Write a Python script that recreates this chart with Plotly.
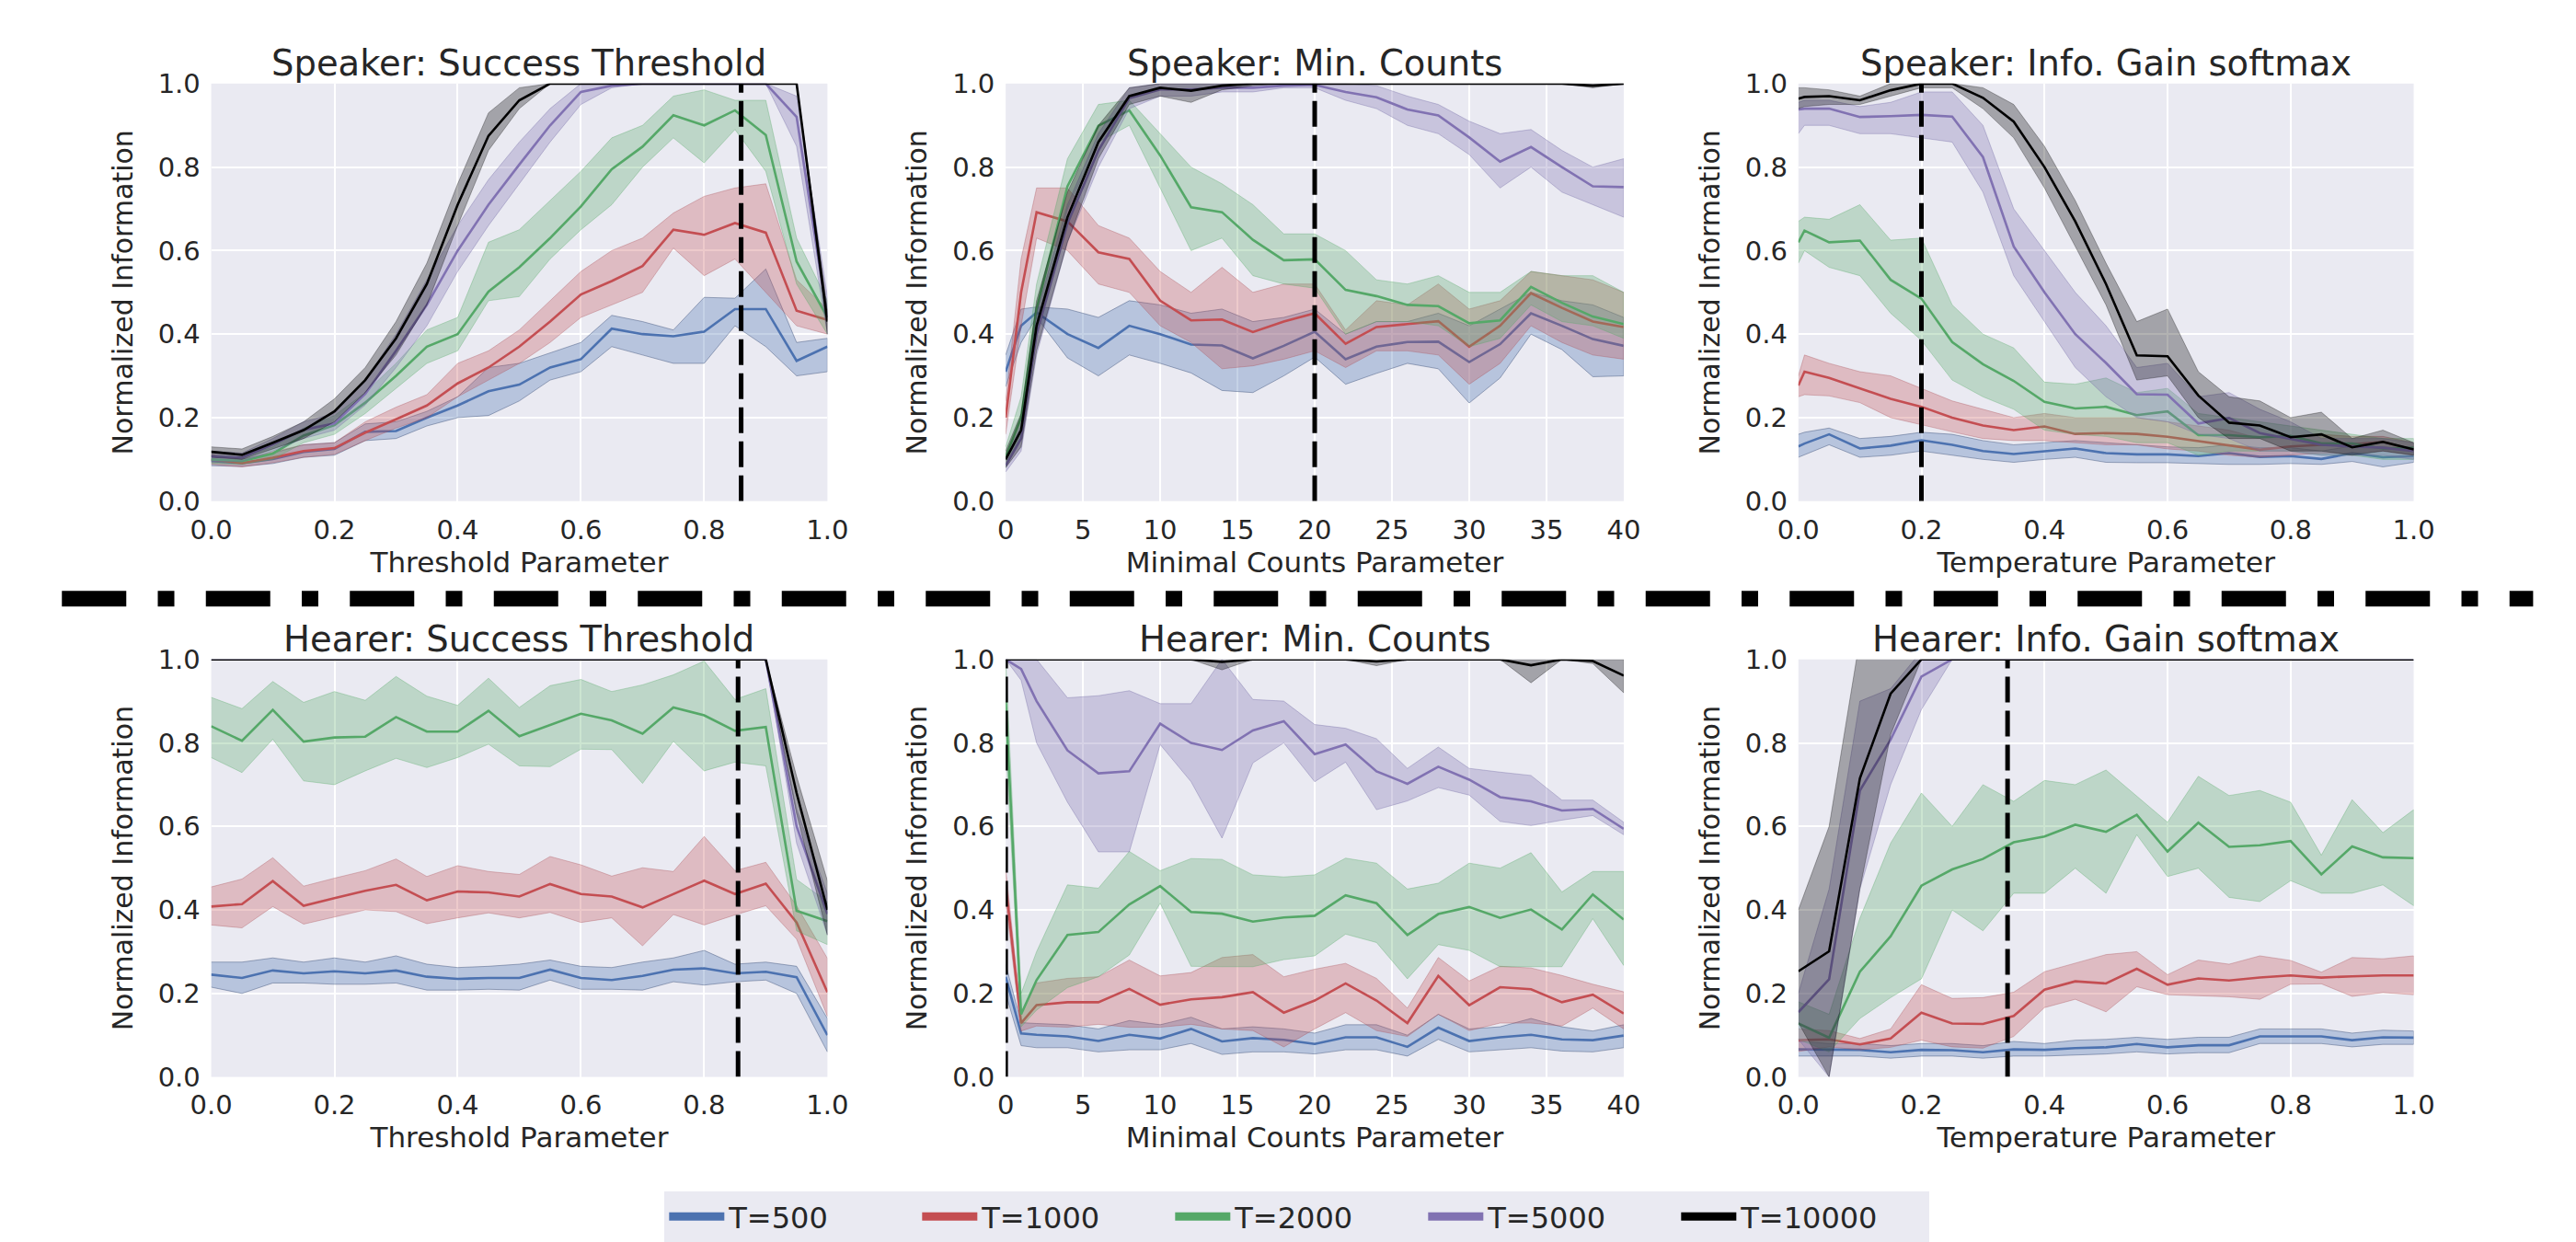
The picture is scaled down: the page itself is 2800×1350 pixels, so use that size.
import plotly.graph_objects as go

# ---------------- data ----------------
T_LABELS = ["T=500", "T=1000", "T=2000", "T=5000", "T=10000"]
COLORS = ["#4C72B0", "#C44E52", "#55A868", "#8172B2", "#000000"]
FILLS = ["rgba(76,114,176,0.32)", "rgba(196,78,82,0.30)", "rgba(85,168,104,0.30)",
         "rgba(129,114,178,0.32)", "rgba(0,0,0,0.30)"]
EDGES = ["rgba(60,80,120,0.45)", "rgba(170,80,90,0.35)", "rgba(85,168,104,0.35)",
         "rgba(110,100,160,0.35)", "rgba(0,0,0,0.30)"]

X_THR = [0.0, 0.05, 0.1, 0.15, 0.2, 0.25, 0.3, 0.35, 0.4, 0.45, 0.5,
         0.55, 0.6, 0.65, 0.7, 0.75, 0.8, 0.85, 0.9, 0.95, 1.0]
X_MC = [0, 1, 2, 4, 6, 8, 10, 12, 14, 16, 18, 20, 22, 24, 26, 28, 30, 32, 34, 36, 38, 40]
X_IG_SP = [0.0, 0.01, 0.05, 0.1, 0.15, 0.2, 0.25, 0.3, 0.35, 0.4, 0.45, 0.5,
           0.55, 0.6, 0.65, 0.7, 0.75, 0.8, 0.85, 0.9, 0.95, 1.0]
X_IG_HE = X_THR

# Speaker: Success Threshold
SP_THR_MEAN = [
    [0.096, 0.091, 0.101, 0.118, 0.125, 0.166, 0.168, 0.200, 0.229, 0.263, 0.279, 0.320, 0.340, 0.413, 0.400, 0.395, 0.406, 0.460, 0.460, 0.336, 0.370],
    [0.100, 0.091, 0.104, 0.120, 0.127, 0.164, 0.196, 0.229, 0.282, 0.320, 0.370, 0.430, 0.495, 0.527, 0.563, 0.650, 0.638, 0.666, 0.643, 0.456, 0.434],
    [0.100, 0.096, 0.114, 0.157, 0.182, 0.236, 0.300, 0.370, 0.400, 0.502, 0.560, 0.630, 0.706, 0.795, 0.849, 0.924, 0.900, 0.936, 0.877, 0.574, 0.440],
    [0.107, 0.104, 0.136, 0.171, 0.186, 0.257, 0.360, 0.470, 0.600, 0.710, 0.806, 0.900, 0.980, 0.995, 1.0, 1.0, 1.0, 1.0, 1.0, 0.920, 0.440],
    [0.118, 0.111, 0.140, 0.170, 0.215, 0.290, 0.390, 0.520, 0.710, 0.875, 0.960, 1.0, 1.0, 1.0, 1.0, 1.0, 1.0, 1.0, 1.0, 1.0, 0.430],
]
SP_THR_LO = [
    [0.085, 0.083, 0.090, 0.105, 0.110, 0.145, 0.150, 0.180, 0.200, 0.205, 0.240, 0.290, 0.310, 0.370, 0.350, 0.330, 0.330, 0.420, 0.370, 0.300, 0.310],
    [0.088, 0.082, 0.092, 0.105, 0.112, 0.145, 0.175, 0.200, 0.250, 0.290, 0.330, 0.380, 0.440, 0.470, 0.500, 0.606, 0.540, 0.580, 0.500, 0.420, 0.400],
    [0.090, 0.088, 0.100, 0.140, 0.160, 0.210, 0.270, 0.330, 0.360, 0.480, 0.490, 0.580, 0.650, 0.710, 0.800, 0.870, 0.810, 0.890, 0.790, 0.520, 0.400],
    [0.095, 0.095, 0.120, 0.150, 0.170, 0.230, 0.320, 0.420, 0.550, 0.660, 0.760, 0.860, 0.950, 0.990, 1.0, 1.0, 1.0, 1.0, 1.0, 0.850, 0.400],
    [0.105, 0.100, 0.125, 0.150, 0.190, 0.260, 0.350, 0.470, 0.660, 0.840, 0.940, 1.0, 1.0, 1.0, 1.0, 1.0, 1.0, 1.0, 1.0, 1.0, 0.400],
]
SP_THR_HI = [
    [0.110, 0.100, 0.115, 0.135, 0.140, 0.185, 0.190, 0.215, 0.250, 0.320, 0.330, 0.355, 0.380, 0.445, 0.430, 0.410, 0.488, 0.486, 0.556, 0.380, 0.390],
    [0.112, 0.100, 0.118, 0.135, 0.140, 0.190, 0.225, 0.255, 0.330, 0.360, 0.410, 0.480, 0.550, 0.600, 0.630, 0.690, 0.730, 0.750, 0.760, 0.530, 0.460],
    [0.110, 0.105, 0.130, 0.175, 0.205, 0.260, 0.330, 0.410, 0.440, 0.620, 0.650, 0.720, 0.790, 0.870, 0.900, 0.970, 0.985, 0.960, 0.960, 0.630, 0.480],
    [0.120, 0.115, 0.150, 0.190, 0.210, 0.290, 0.400, 0.530, 0.660, 0.770, 0.860, 0.940, 1.0, 1.0, 1.0, 1.0, 1.0, 1.0, 1.0, 0.970, 0.490],
    [0.130, 0.125, 0.155, 0.190, 0.245, 0.320, 0.430, 0.570, 0.760, 0.930, 0.990, 1.0, 1.0, 1.0, 1.0, 1.0, 1.0, 1.0, 1.0, 1.0, 0.460],
]

# Speaker: Min. Counts
SP_MC_MEAN = [
    [0.310, 0.420, 0.452, 0.400, 0.367, 0.420, 0.400, 0.375, 0.373, 0.342, 0.372, 0.406, 0.340, 0.370, 0.381, 0.382, 0.333, 0.376, 0.450, 0.420, 0.388, 0.372],
    [0.200, 0.500, 0.692, 0.670, 0.596, 0.580, 0.480, 0.433, 0.435, 0.405, 0.430, 0.450, 0.377, 0.417, 0.424, 0.431, 0.370, 0.420, 0.498, 0.463, 0.430, 0.417],
    [0.106, 0.200, 0.460, 0.754, 0.899, 0.936, 0.828, 0.704, 0.692, 0.626, 0.577, 0.579, 0.506, 0.491, 0.470, 0.467, 0.426, 0.433, 0.513, 0.475, 0.442, 0.424],
    [0.085, 0.150, 0.400, 0.665, 0.840, 0.965, 0.986, 0.986, 0.990, 0.990, 0.995, 0.997, 0.980, 0.967, 0.938, 0.924, 0.871, 0.813, 0.848, 0.800, 0.754, 0.752],
    [0.100, 0.170, 0.420, 0.680, 0.860, 0.970, 0.990, 0.983, 0.995, 1.0, 1.0, 1.0, 1.0, 1.0, 1.0, 1.0, 1.0, 1.0, 1.0, 1.0, 0.995, 1.0],
]
SP_MC_LO = [
    [0.274, 0.380, 0.440, 0.343, 0.300, 0.350, 0.330, 0.307, 0.265, 0.260, 0.300, 0.345, 0.280, 0.306, 0.330, 0.317, 0.235, 0.295, 0.400, 0.363, 0.298, 0.300],
    [0.160, 0.420, 0.630, 0.600, 0.520, 0.500, 0.420, 0.380, 0.317, 0.324, 0.340, 0.360, 0.320, 0.360, 0.360, 0.350, 0.280, 0.330, 0.420, 0.380, 0.350, 0.340],
    [0.080, 0.160, 0.400, 0.700, 0.860, 0.900, 0.750, 0.600, 0.630, 0.540, 0.520, 0.510, 0.400, 0.430, 0.430, 0.420, 0.370, 0.390, 0.470, 0.430, 0.420, 0.390],
    [0.070, 0.120, 0.350, 0.620, 0.800, 0.940, 0.970, 0.970, 0.980, 0.980, 0.990, 0.990, 0.960, 0.940, 0.900, 0.880, 0.830, 0.750, 0.800, 0.740, 0.710, 0.680],
    [0.080, 0.130, 0.360, 0.620, 0.820, 0.950, 0.970, 0.955, 0.985, 0.995, 1.0, 1.0, 1.0, 1.0, 1.0, 1.0, 1.0, 1.0, 1.0, 1.0, 0.990, 1.0],
]
SP_MC_HI = [
    [0.350, 0.460, 0.465, 0.460, 0.440, 0.480, 0.470, 0.450, 0.460, 0.430, 0.440, 0.460, 0.400, 0.430, 0.430, 0.450, 0.420, 0.460, 0.500, 0.480, 0.470, 0.440],
    [0.240, 0.580, 0.750, 0.750, 0.660, 0.630, 0.550, 0.500, 0.560, 0.500, 0.520, 0.520, 0.410, 0.480, 0.470, 0.520, 0.460, 0.480, 0.550, 0.540, 0.530, 0.500],
    [0.130, 0.250, 0.520, 0.820, 0.950, 0.960, 0.880, 0.800, 0.760, 0.710, 0.640, 0.640, 0.600, 0.530, 0.520, 0.540, 0.500, 0.500, 0.550, 0.540, 0.540, 0.500],
    [0.100, 0.180, 0.450, 0.710, 0.880, 0.990, 1.0, 1.0, 1.0, 1.0, 1.0, 1.0, 1.0, 0.995, 0.970, 0.950, 0.910, 0.880, 0.890, 0.840, 0.800, 0.820],
    [0.120, 0.210, 0.480, 0.740, 0.900, 0.990, 1.0, 1.0, 1.0, 1.0, 1.0, 1.0, 1.0, 1.0, 1.0, 1.0, 1.0, 1.0, 1.0, 1.0, 1.0, 1.0],
]

# Speaker: Info. Gain softmax
SP_IG_MEAN = [
    [0.131, 0.138, 0.160, 0.126, 0.133, 0.146, 0.135, 0.120, 0.113, 0.120, 0.126, 0.115, 0.112, 0.112, 0.108, 0.115, 0.106, 0.108, 0.101, 0.115, 0.105, 0.108],
    [0.277, 0.310, 0.295, 0.270, 0.245, 0.226, 0.200, 0.181, 0.170, 0.179, 0.161, 0.163, 0.161, 0.154, 0.144, 0.133, 0.123, 0.131, 0.135, 0.136, 0.142, 0.123],
    [0.620, 0.648, 0.620, 0.624, 0.530, 0.485, 0.381, 0.328, 0.288, 0.238, 0.222, 0.226, 0.206, 0.215, 0.158, 0.158, 0.153, 0.156, 0.138, 0.138, 0.126, 0.128],
    [0.938, 0.940, 0.940, 0.920, 0.922, 0.925, 0.921, 0.824, 0.610, 0.500, 0.400, 0.331, 0.256, 0.255, 0.186, 0.199, 0.163, 0.149, 0.135, 0.131, 0.128, 0.120],
    [0.964, 0.968, 0.970, 0.960, 0.984, 1.0, 1.0, 0.966, 0.909, 0.800, 0.670, 0.520, 0.349, 0.347, 0.253, 0.188, 0.181, 0.153, 0.160, 0.129, 0.142, 0.124],
]
SP_IG_LO = [
    [0.105, 0.110, 0.135, 0.105, 0.110, 0.120, 0.110, 0.100, 0.093, 0.100, 0.105, 0.093, 0.092, 0.092, 0.090, 0.088, 0.088, 0.090, 0.088, 0.095, 0.082, 0.093],
    [0.250, 0.255, 0.252, 0.236, 0.200, 0.183, 0.166, 0.150, 0.145, 0.145, 0.140, 0.135, 0.135, 0.125, 0.120, 0.110, 0.105, 0.110, 0.115, 0.115, 0.120, 0.110],
    [0.570, 0.600, 0.560, 0.540, 0.450, 0.385, 0.290, 0.250, 0.220, 0.170, 0.160, 0.155, 0.140, 0.140, 0.110, 0.120, 0.120, 0.120, 0.110, 0.110, 0.100, 0.100],
    [0.880, 0.900, 0.900, 0.880, 0.880, 0.870, 0.860, 0.740, 0.540, 0.430, 0.320, 0.250, 0.200, 0.190, 0.160, 0.150, 0.120, 0.120, 0.110, 0.110, 0.110, 0.100],
    [0.940, 0.945, 0.950, 0.950, 0.970, 0.990, 0.990, 0.940, 0.870, 0.750, 0.610, 0.470, 0.290, 0.300, 0.200, 0.150, 0.150, 0.120, 0.120, 0.110, 0.120, 0.110],
]
SP_IG_HI = [
    [0.160, 0.165, 0.175, 0.150, 0.155, 0.165, 0.160, 0.145, 0.135, 0.140, 0.145, 0.140, 0.135, 0.130, 0.128, 0.135, 0.128, 0.128, 0.120, 0.132, 0.130, 0.125],
    [0.300, 0.350, 0.330, 0.310, 0.300, 0.270, 0.240, 0.220, 0.200, 0.210, 0.200, 0.200, 0.200, 0.190, 0.180, 0.170, 0.150, 0.150, 0.160, 0.155, 0.155, 0.140],
    [0.670, 0.680, 0.675, 0.710, 0.625, 0.630, 0.470, 0.400, 0.367, 0.285, 0.280, 0.295, 0.260, 0.270, 0.210, 0.200, 0.190, 0.180, 0.170, 0.160, 0.150, 0.150],
    [0.955, 0.960, 0.960, 0.945, 0.955, 0.980, 0.980, 0.900, 0.700, 0.600, 0.500, 0.420, 0.320, 0.330, 0.250, 0.260, 0.220, 0.190, 0.150, 0.150, 0.150, 0.140],
    [0.990, 0.990, 0.985, 0.970, 1.0, 1.0, 1.0, 0.990, 0.950, 0.850, 0.720, 0.570, 0.430, 0.460, 0.310, 0.250, 0.240, 0.200, 0.213, 0.150, 0.170, 0.140],
]

# Hearer: Success Threshold
HE_THR_MEAN = [
    [0.245, 0.237, 0.255, 0.248, 0.253, 0.248, 0.255, 0.240, 0.235, 0.237, 0.237, 0.257, 0.237, 0.232, 0.242, 0.257, 0.260, 0.248, 0.252, 0.239, 0.100],
    [0.408, 0.414, 0.469, 0.410, 0.428, 0.446, 0.460, 0.423, 0.444, 0.442, 0.432, 0.462, 0.438, 0.432, 0.406, 0.438, 0.470, 0.438, 0.463, 0.370, 0.203],
    [0.840, 0.805, 0.879, 0.803, 0.813, 0.815, 0.862, 0.827, 0.827, 0.877, 0.816, 0.843, 0.870, 0.854, 0.822, 0.885, 0.866, 0.829, 0.838, 0.398, 0.373],
    [1.0, 1.0, 1.0, 1.0, 1.0, 1.0, 1.0, 1.0, 1.0, 1.0, 1.0, 1.0, 1.0, 1.0, 1.0, 1.0, 1.0, 1.0, 1.0, 0.600, 0.390],
    [1.0, 1.0, 1.0, 1.0, 1.0, 1.0, 1.0, 1.0, 1.0, 1.0, 1.0, 1.0, 1.0, 1.0, 1.0, 1.0, 1.0, 1.0, 1.0, 0.680, 0.400],
]
HE_THR_LO = [
    [0.215, 0.200, 0.225, 0.225, 0.222, 0.222, 0.225, 0.208, 0.208, 0.210, 0.208, 0.232, 0.210, 0.210, 0.208, 0.228, 0.220, 0.228, 0.232, 0.200, 0.060],
    [0.364, 0.357, 0.408, 0.366, 0.383, 0.400, 0.396, 0.367, 0.381, 0.393, 0.381, 0.394, 0.370, 0.381, 0.314, 0.389, 0.364, 0.388, 0.410, 0.330, 0.145],
    [0.765, 0.729, 0.809, 0.709, 0.700, 0.733, 0.763, 0.741, 0.765, 0.797, 0.745, 0.743, 0.785, 0.784, 0.703, 0.804, 0.733, 0.754, 0.745, 0.350, 0.317],
    [1.0, 1.0, 1.0, 1.0, 1.0, 1.0, 1.0, 1.0, 1.0, 1.0, 1.0, 1.0, 1.0, 1.0, 1.0, 1.0, 1.0, 1.0, 1.0, 0.560, 0.340],
    [1.0, 1.0, 1.0, 1.0, 1.0, 1.0, 1.0, 1.0, 1.0, 1.0, 1.0, 1.0, 1.0, 1.0, 1.0, 1.0, 1.0, 1.0, 1.0, 0.630, 0.340],
]
HE_THR_HI = [
    [0.275, 0.275, 0.285, 0.275, 0.285, 0.275, 0.290, 0.270, 0.262, 0.265, 0.270, 0.280, 0.265, 0.262, 0.275, 0.285, 0.303, 0.270, 0.275, 0.265, 0.140],
    [0.455, 0.474, 0.525, 0.457, 0.476, 0.494, 0.522, 0.480, 0.506, 0.492, 0.485, 0.528, 0.508, 0.481, 0.501, 0.492, 0.576, 0.494, 0.514, 0.410, 0.284],
    [0.909, 0.882, 0.947, 0.897, 0.923, 0.902, 0.959, 0.912, 0.890, 0.955, 0.885, 0.937, 0.952, 0.923, 0.939, 0.963, 0.996, 0.904, 0.930, 0.473, 0.420],
    [1.0, 1.0, 1.0, 1.0, 1.0, 1.0, 1.0, 1.0, 1.0, 1.0, 1.0, 1.0, 1.0, 1.0, 1.0, 1.0, 1.0, 1.0, 1.0, 0.640, 0.440],
    [1.0, 1.0, 1.0, 1.0, 1.0, 1.0, 1.0, 1.0, 1.0, 1.0, 1.0, 1.0, 1.0, 1.0, 1.0, 1.0, 1.0, 1.0, 1.0, 0.720, 0.470],
]

# Hearer: Min. Counts
HE_MC_MEAN = [
    [0.240, 0.104, 0.101, 0.097, 0.086, 0.101, 0.092, 0.115, 0.085, 0.093, 0.089, 0.079, 0.095, 0.095, 0.072, 0.118, 0.086, 0.095, 0.101, 0.090, 0.088, 0.099],
    [0.460, 0.129, 0.172, 0.179, 0.179, 0.211, 0.173, 0.186, 0.191, 0.203, 0.154, 0.183, 0.224, 0.183, 0.129, 0.242, 0.172, 0.215, 0.210, 0.179, 0.197, 0.152],
    [0.900, 0.150, 0.232, 0.340, 0.347, 0.413, 0.457, 0.395, 0.391, 0.372, 0.382, 0.386, 0.435, 0.416, 0.340, 0.390, 0.407, 0.381, 0.401, 0.353, 0.437, 0.377],
    [1.0, 0.977, 0.900, 0.782, 0.727, 0.732, 0.846, 0.800, 0.783, 0.830, 0.852, 0.773, 0.796, 0.732, 0.702, 0.743, 0.712, 0.670, 0.660, 0.638, 0.642, 0.594],
    [1.0, 1.0, 1.0, 1.0, 1.0, 1.0, 1.0, 1.0, 0.994, 1.0, 1.0, 1.0, 1.0, 0.995, 1.0, 1.0, 1.0, 1.0, 0.986, 1.0, 0.996, 0.961],
]
HE_MC_LO = [
    [0.200, 0.075, 0.070, 0.070, 0.060, 0.065, 0.065, 0.080, 0.054, 0.060, 0.060, 0.055, 0.065, 0.065, 0.050, 0.090, 0.060, 0.065, 0.070, 0.062, 0.060, 0.070],
    [0.420, 0.110, 0.122, 0.119, 0.126, 0.119, 0.119, 0.126, 0.115, 0.111, 0.072, 0.115, 0.154, 0.111, 0.097, 0.150, 0.111, 0.129, 0.129, 0.122, 0.165, 0.115],
    [0.800, 0.120, 0.160, 0.214, 0.240, 0.292, 0.416, 0.265, 0.264, 0.264, 0.281, 0.290, 0.342, 0.322, 0.235, 0.317, 0.303, 0.264, 0.264, 0.264, 0.379, 0.267],
    [1.0, 0.950, 0.800, 0.658, 0.539, 0.539, 0.796, 0.707, 0.572, 0.752, 0.800, 0.707, 0.754, 0.640, 0.661, 0.693, 0.675, 0.612, 0.602, 0.615, 0.626, 0.580],
    [1.0, 1.0, 1.0, 1.0, 1.0, 1.0, 1.0, 1.0, 0.975, 1.0, 1.0, 1.0, 1.0, 0.985, 1.0, 1.0, 1.0, 1.0, 0.944, 1.0, 0.990, 0.920],
]
HE_MC_HI = [
    [0.270, 0.130, 0.128, 0.125, 0.115, 0.135, 0.125, 0.143, 0.115, 0.120, 0.115, 0.105, 0.125, 0.125, 0.100, 0.150, 0.115, 0.120, 0.140, 0.120, 0.110, 0.125],
    [0.500, 0.150, 0.225, 0.236, 0.240, 0.280, 0.242, 0.250, 0.286, 0.293, 0.240, 0.258, 0.272, 0.236, 0.165, 0.286, 0.230, 0.265, 0.261, 0.243, 0.222, 0.204],
    [1.0, 0.200, 0.300, 0.460, 0.452, 0.540, 0.494, 0.523, 0.521, 0.484, 0.479, 0.484, 0.524, 0.512, 0.450, 0.464, 0.512, 0.500, 0.537, 0.443, 0.492, 0.492],
    [1.0, 1.0, 1.0, 0.908, 0.913, 0.925, 0.894, 0.894, 1.0, 0.904, 0.900, 0.844, 0.835, 0.810, 0.739, 0.790, 0.739, 0.730, 0.722, 0.663, 0.663, 0.610],
    [1.0, 1.0, 1.0, 1.0, 1.0, 1.0, 1.0, 1.0, 1.0, 1.0, 1.0, 1.0, 1.0, 1.0, 1.0, 1.0, 1.0, 1.0, 1.0, 1.0, 1.0, 1.0],
]

# Hearer: Info. Gain softmax
HE_IG_MEAN = [
    [0.066, 0.065, 0.065, 0.059, 0.065, 0.064, 0.059, 0.066, 0.065, 0.069, 0.071, 0.079, 0.071, 0.076, 0.076, 0.097, 0.097, 0.097, 0.088, 0.095, 0.094],
    [0.088, 0.090, 0.078, 0.092, 0.154, 0.128, 0.127, 0.146, 0.209, 0.229, 0.224, 0.259, 0.221, 0.236, 0.231, 0.238, 0.243, 0.238, 0.241, 0.243, 0.243],
    [0.128, 0.094, 0.252, 0.337, 0.458, 0.497, 0.522, 0.562, 0.576, 0.604, 0.587, 0.628, 0.540, 0.609, 0.551, 0.555, 0.565, 0.485, 0.552, 0.526, 0.524],
    [0.155, 0.234, 0.686, 0.808, 0.959, 1.0, 1.0, 1.0, 1.0, 1.0, 1.0, 1.0, 1.0, 1.0, 1.0, 1.0, 1.0, 1.0, 1.0, 1.0, 1.0],
    [0.253, 0.301, 0.715, 0.918, 1.0, 1.0, 1.0, 1.0, 1.0, 1.0, 1.0, 1.0, 1.0, 1.0, 1.0, 1.0, 1.0, 1.0, 1.0, 1.0, 1.0],
]
HE_IG_LO = [
    [0.050, 0.050, 0.050, 0.045, 0.050, 0.050, 0.045, 0.050, 0.050, 0.052, 0.055, 0.060, 0.055, 0.058, 0.058, 0.080, 0.080, 0.080, 0.072, 0.078, 0.078],
    [0.061, 0.072, 0.065, 0.071, 0.088, 0.072, 0.069, 0.097, 0.166, 0.186, 0.156, 0.216, 0.197, 0.195, 0.192, 0.186, 0.222, 0.223, 0.193, 0.202, 0.197],
    [0.090, 0.060, 0.140, 0.190, 0.235, 0.400, 0.350, 0.440, 0.440, 0.500, 0.440, 0.580, 0.480, 0.500, 0.430, 0.420, 0.470, 0.440, 0.440, 0.460, 0.410],
    [0.090, 0.000, 0.450, 0.700, 0.880, 1.0, 1.0, 1.0, 1.0, 1.0, 1.0, 1.0, 1.0, 1.0, 1.0, 1.0, 1.0, 1.0, 1.0, 1.0, 1.0],
    [0.130, 0.000, 0.450, 0.820, 1.0, 1.0, 1.0, 1.0, 1.0, 1.0, 1.0, 1.0, 1.0, 1.0, 1.0, 1.0, 1.0, 1.0, 1.0, 1.0, 1.0],
]
HE_IG_HI = [
    [0.085, 0.080, 0.080, 0.075, 0.080, 0.080, 0.075, 0.085, 0.080, 0.088, 0.090, 0.095, 0.090, 0.095, 0.095, 0.115, 0.115, 0.115, 0.105, 0.112, 0.110],
    [0.115, 0.111, 0.092, 0.115, 0.221, 0.188, 0.190, 0.203, 0.252, 0.272, 0.293, 0.300, 0.245, 0.280, 0.270, 0.290, 0.279, 0.251, 0.286, 0.283, 0.290],
    [0.180, 0.150, 0.380, 0.560, 0.680, 0.600, 0.700, 0.660, 0.710, 0.700, 0.735, 0.672, 0.610, 0.720, 0.674, 0.686, 0.658, 0.531, 0.664, 0.585, 0.640],
    [0.200, 0.450, 0.900, 0.930, 1.020, 1.0, 1.0, 1.0, 1.0, 1.0, 1.0, 1.0, 1.0, 1.0, 1.0, 1.0, 1.0, 1.0, 1.0, 1.0, 1.0],
    [0.400, 0.600, 1.050, 1.050, 1.0, 1.0, 1.0, 1.0, 1.0, 1.0, 1.0, 1.0, 1.0, 1.0, 1.0, 1.0, 1.0, 1.0, 1.0, 1.0, 1.0],
]

TITLES = ["Speaker: Success Threshold", "Speaker: Min. Counts", "Speaker: Info. Gain softmax",
          "Hearer: Success Threshold", "Hearer: Min. Counts", "Hearer: Info. Gain softmax"]
XLABELS = ["Threshold Parameter", "Minimal Counts Parameter", "Temperature Parameter",
           "Threshold Parameter", "Minimal Counts Parameter", "Temperature Parameter"]
VLINES = [0.86, 20, 0.2, 0.855, 0, 0.34]
YLABEL = "Normalized Information"
YTICKS = [0.0, 0.2, 0.4, 0.6, 0.8, 1.0]
XTICKS_UNIT = [0.0, 0.2, 0.4, 0.6, 0.8, 1.0]
XTICKS_MC = [0, 5, 10, 15, 20, 25, 30, 35, 40]

panels = [
    (X_THR, SP_THR_MEAN, SP_THR_LO, SP_THR_HI, [0, 1], XTICKS_UNIT),
    (X_MC, SP_MC_MEAN, SP_MC_LO, SP_MC_HI, [0, 40], XTICKS_MC),
    (X_IG_SP, SP_IG_MEAN, SP_IG_LO, SP_IG_HI, [0, 1], XTICKS_UNIT),
    (X_THR, HE_THR_MEAN, HE_THR_LO, HE_THR_HI, [0, 1], XTICKS_UNIT),
    (X_MC, HE_MC_MEAN, HE_MC_LO, HE_MC_HI, [0, 40], XTICKS_MC),
    (X_IG_HE, HE_IG_MEAN, HE_IG_LO, HE_IG_HI, [0, 1], XTICKS_UNIT),
]

# ---------------- layout geometry ----------------
W, H = 2800, 1350
XDOMS = [[210 / W, 891 / W], [1088 / W, 1771 / W], [1964 / W, 2644 / W]]
YDOMS = [[1 - 543 / H, 1 - 76 / H], [1 - 1187 / H, 1 - 720 / H]]
FONT = "DejaVu Sans"
TXT = "#262626"

fig = go.Figure()

for p, (xs, means, los, his, xr, xt) in enumerate(panels):
    ax = "" if p == 0 else str(p + 1)
    xref, yref = "x" + ax, "y" + ax
    for i in range(5):
        fig.add_trace(go.Scatter(
            x=list(xs) + list(xs)[::-1], y=his[i] + los[i][::-1],
            fill="toself", fillcolor=FILLS[i], mode="lines",
            line=dict(color=EDGES[i], width=1), hoverinfo="skip",
            showlegend=False, xaxis=xref, yaxis=yref))
        fig.add_trace(go.Scatter(
            x=xs, y=means[i], mode="lines", line=dict(color=COLORS[i], width=2.6),
            name=T_LABELS[i], showlegend=False, xaxis=xref, yaxis=yref))
    fig.add_trace(go.Scatter(
        x=[VLINES[p], VLINES[p]], y=[0, 1], mode="lines",
        line=dict(color="black", width=5, dash="28px,9px"),
        showlegend=False, hoverinfo="skip", xaxis=xref, yaxis=yref))

# legend entries
for i in range(5):
    fig.add_trace(go.Scatter(x=[None], y=[None], mode="lines", name=T_LABELS[i],
                             line=dict(color=COLORS[i], width=9), showlegend=True,
                             xaxis="x", yaxis="y"))

layout = dict(
    width=W, height=H,
    margin=dict(l=0, r=0, t=0, b=0),
    paper_bgcolor="white", plot_bgcolor="#EAEAF2",
    font=dict(family=FONT, color=TXT, size=29),
    showlegend=True,
    legend=dict(orientation="h", x=711 / W, xanchor="left", y=-22 / H, yanchor="bottom",
                bgcolor="#EAEAF2", font=dict(size=32, family=FONT, color=TXT),
                entrywidth=200, entrywidthmode="pixels", itemwidth=60),
    annotations=[],
)
for p in range(6):
    ax = "" if p == 0 else str(p + 1)
    row, col = p // 3, p % 3
    xr, xt = panels[p][4], panels[p][5]
    layout["xaxis" + ax] = dict(
        domain=XDOMS[col], range=xr, anchor="y" + ax,
        tickvals=xt, ticktext=[("%.1f" % v) if xr[1] == 1 else str(v) for v in xt],
        showgrid=True, gridcolor="white", gridwidth=2, zeroline=False, showline=False,
        ticks="outside", ticklen=5, tickcolor="rgba(0,0,0,0)",
        tickfont=dict(size=29, family=FONT, color=TXT),
        title=dict(text=XLABELS[p], font=dict(size=31, family=FONT, color=TXT), standoff=3),
    )
    layout["yaxis" + ax] = dict(
        domain=YDOMS[row], range=[0, 1], anchor="x" + ax,
        tickvals=YTICKS, ticktext=["%.1f" % v for v in YTICKS],
        showgrid=True, gridcolor="white", gridwidth=2, zeroline=False, showline=False,
        ticks="outside", ticklen=5, tickcolor="rgba(0,0,0,0)",
        tickfont=dict(size=29, family=FONT, color=TXT),
        title=dict(text=YLABEL, font=dict(size=30, family=FONT, color=TXT), standoff=18),
    )
    layout["annotations"].append(dict(
        text=TITLES[p], xref="paper", yref="paper",
        x=(XDOMS[col][0] + XDOMS[col][1]) / 2, y=YDOMS[row][1],
        xanchor="center", yanchor="bottom", showarrow=False, yshift=-2,
        font=dict(size=38.5, family=FONT, color=TXT)))

layout["shapes"] = [dict(
    type="line", xref="paper", yref="paper", x0=45 / W, x1=2776 / W,
    y0=1 - 652 / H, y1=1 - 652 / H,
    line=dict(color="black", width=17, dash="70px,34.25px,18px,34.25px"))]

fig.update_layout(**layout)
fig.write_html("out.html", config={"displayModeBar": False},
               post_script="document.body.style.margin='0';")
